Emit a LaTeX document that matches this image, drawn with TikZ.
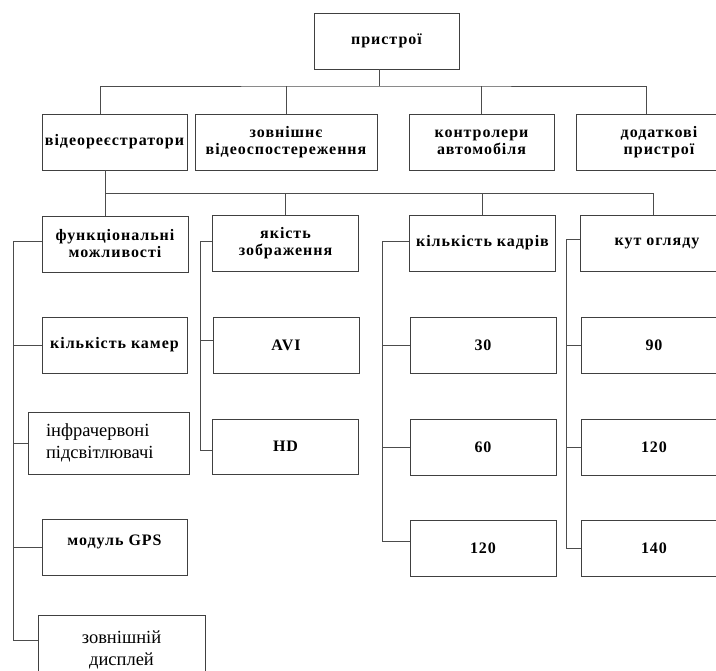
\documentclass[tikz,border=0pt]{standalone}
\usepackage{fontspec}
\setmainfont{Liberation Serif}
\newfontfamily\spacedfont[LetterSpace=6]{Liberation Serif}
\usepackage{tikz}

\tikzset{
 box/.style={draw=black!75, line width=0.9pt, minimum width=146pt, minimum height=56pt, inner sep=0pt, align=center, font=\spacedfont\bfseries\fontsize{16}{17}\selectfont},
 plain/.style={font=\fontsize{18.5}{22}\selectfont},
 wire/.style={draw=black!70, line width=0.9pt}
}

\begin{document}
\begin{tikzpicture}[x=1pt,y=-1pt]
 \path[use as bounding box] (0,0) rectangle (716,671);
 \clip (0,0) rectangle (716,671);

\node[box, minimum width=145pt] (root) at (386.5,41) {пристрої};
\node[box, minimum width=145pt] (video) at (114.5,142) {відеореєстратори};
\node[box, minimum width=182pt] (extern) at (286,142) {зовнішнє\\відеоспостереження};
\node[box, minimum width=145pt] (ctrl) at (481.5,142) {контролери\\автомобіля};
\node[box, minimum width=166pt] (extra) at (659,142) {додаткові\\пристрої};

\node[box] (func) at (115,244) {функціональні\\можливості};
\node[box] (quality) at (285.5,243) {якість\\зображення};
\node[box] (frames) at (482.5,243) {кількість кадрів};
\node[box, minimum width=154pt] (angle) at (657,243) {кут огляду};

\node[box, minimum width=145pt] (cams) at (114.5,345) {кількість камер};
\node[box, plain, minimum width=161pt, minimum height=62pt, text width=125pt, align=left] (ir) at (108.5,443) {інфрачервоні\\підсвітлювачі};
\node[box, minimum width=145pt, text height=10pt, text depth=15pt] (gps) at (114.5,547.5) {модуль GPS};
\node[box, plain, minimum width=167pt, minimum height=70pt] (disp) at (121.5,650) {зовнішній\\дисплей};

\node[box] (avi) at (286,345) {AVI};
\node[box, minimum height=55pt] (hd) at (285.5,446.5) {HD};

\foreach \n/\t/\y in {f30/30/345, f60/60/447, f120/120/548.5}
	\node[box] (\n) at (483,\y) {\t};

\foreach \n/\t/\y in {a90/90/345, a120/120/447, a140/140/548.5}
	\node[box] (\n) at (654,\y) {\t};

\coordinate (bus1) at (379,86);
\coordinate (bus2) at (105,193);
\draw[wire] ([xshift=-7.5pt]root.south) -- (bus1);
\draw[wire] ([xshift=-14.5pt]video.north) |- (bus1) -| ([xshift=-13pt]extra.north);
\draw[wire] (extern.north) -- (extern.north |- bus1);
\draw[wire] (ctrl.north) -- (ctrl.north |- bus1);

\draw[wire] ([xshift=-9.5pt]video.south) -- ([xshift=-10pt]func.north);
\draw[wire] (bus2) -| ([xshift=-4pt]angle.north);
\draw[wire] (quality.north) -- (quality.north |- bus2);
\draw[wire] (frames.north) -- (frames.north |- bus2);

\coordinate (funcline) at (13,0);
\draw[wire] ([yshift=3pt]func.west) -| ([yshift=10pt]disp.west -| funcline) -- ([yshift=10pt]disp.west);
\foreach \n in {cams,ir,gps}
	\draw[wire] (\n.west) -- (\n.west -| funcline);

\coordinate (qualline) at (200,0);
\draw[wire] ([yshift=2pt]quality.west) -| ([yshift=-3.5pt]hd.west -| qualline) -- ([yshift=-3.5pt]hd.west);
\draw[wire] ([yshift=5pt]avi.west) -- ([yshift=5pt]avi.west -| qualline);

\coordinate (frameline) at (382,0);
\draw[wire] ([yshift=2pt]frames.west) -| ([yshift=7.5pt]f120.west -| frameline) -- ([yshift=7.5pt]f120.west);
\foreach \n in {f30,f60}
	\draw[wire] (\n.west) -- (\n.west -| frameline);

\coordinate (angleline) at (566,0);
\draw[wire] ([yshift=4pt]angle.west) -| (a140.west -| angleline) -- (a140.west);
\foreach \n in {a90,a120}
	\draw[wire] (\n.west) -- (\n.west -| angleline);

\end{tikzpicture}
\end{document}
